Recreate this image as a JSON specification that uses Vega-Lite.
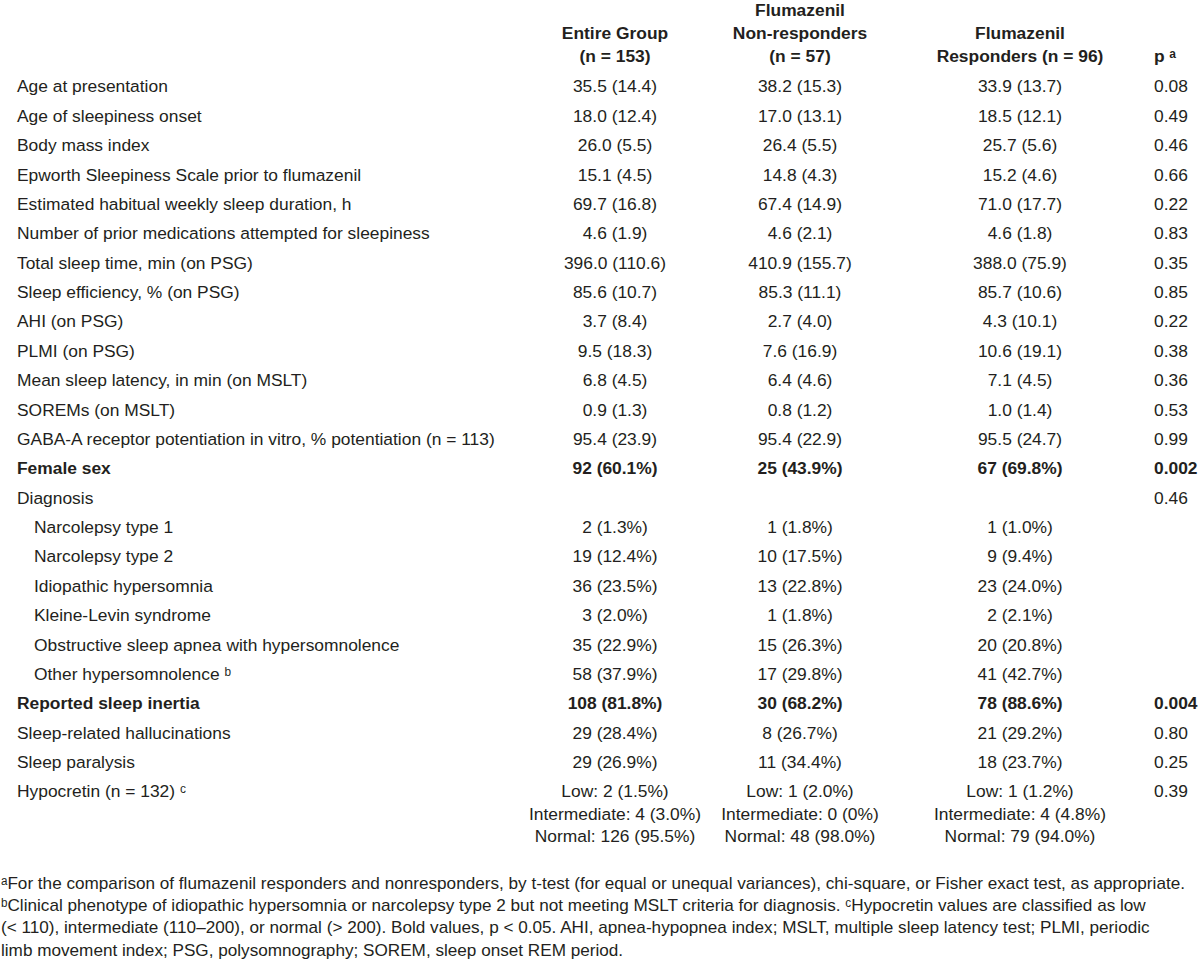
{
  "$schema": "https://vega.github.io/schema/vega-lite/v6.json",
  "width": 1200,
  "height": 974,
  "autosize": {"type": "fit", "contains": "padding"},
  "padding": 0,
  "background": "white",
  "config": {"view": {"stroke": null}, "text": {"font": "Liberation Sans, Arial, sans-serif", "fontSize": 17.4, "color": "#231f20", "baseline": "middle"}},
  "data": {"values": [
    {"r": -1.604, "c": 4, "t": "Flumazenil", "b": 1},
    {"r": -0.821, "c": 3, "t": "Entire Group", "b": 1},
    {"r": -0.821, "c": 4, "t": "Non-responders", "b": 1},
    {"r": -0.821, "c": 5, "t": "Flumazenil", "b": 1},
    {"r": -0.038, "c": 3, "t": "(n = 153)", "b": 1},
    {"r": -0.038, "c": 4, "t": "(n = 57)", "b": 1},
    {"r": -0.038, "c": 5, "t": "Responders (n = 96)", "b": 1},
    {"r": -0.038, "c": 6, "t": "p ᵃ", "b": 1},

    {"r": 1, "c": 1, "t": "Age at presentation", "b": 0},
    {"r": 1, "c": 3, "t": "35.5 (14.4)", "b": 0},
    {"r": 1, "c": 4, "t": "38.2 (15.3)", "b": 0},
    {"r": 1, "c": 5, "t": "33.9 (13.7)", "b": 0},
    {"r": 1, "c": 6, "t": "0.08", "b": 0},

    {"r": 2, "c": 1, "t": "Age of sleepiness onset", "b": 0},
    {"r": 2, "c": 3, "t": "18.0 (12.4)", "b": 0},
    {"r": 2, "c": 4, "t": "17.0 (13.1)", "b": 0},
    {"r": 2, "c": 5, "t": "18.5 (12.1)", "b": 0},
    {"r": 2, "c": 6, "t": "0.49", "b": 0},

    {"r": 3, "c": 1, "t": "Body mass index", "b": 0},
    {"r": 3, "c": 3, "t": "26.0 (5.5)", "b": 0},
    {"r": 3, "c": 4, "t": "26.4 (5.5)", "b": 0},
    {"r": 3, "c": 5, "t": "25.7 (5.6)", "b": 0},
    {"r": 3, "c": 6, "t": "0.46", "b": 0},

    {"r": 4, "c": 1, "t": "Epworth Sleepiness Scale prior to flumazenil", "b": 0},
    {"r": 4, "c": 3, "t": "15.1 (4.5)", "b": 0},
    {"r": 4, "c": 4, "t": "14.8 (4.3)", "b": 0},
    {"r": 4, "c": 5, "t": "15.2 (4.6)", "b": 0},
    {"r": 4, "c": 6, "t": "0.66", "b": 0},

    {"r": 5, "c": 1, "t": "Estimated habitual weekly sleep duration, h", "b": 0},
    {"r": 5, "c": 3, "t": "69.7 (16.8)", "b": 0},
    {"r": 5, "c": 4, "t": "67.4 (14.9)", "b": 0},
    {"r": 5, "c": 5, "t": "71.0 (17.7)", "b": 0},
    {"r": 5, "c": 6, "t": "0.22", "b": 0},

    {"r": 6, "c": 1, "t": "Number of prior medications attempted for sleepiness", "b": 0},
    {"r": 6, "c": 3, "t": "4.6 (1.9)", "b": 0},
    {"r": 6, "c": 4, "t": "4.6 (2.1)", "b": 0},
    {"r": 6, "c": 5, "t": "4.6 (1.8)", "b": 0},
    {"r": 6, "c": 6, "t": "0.83", "b": 0},

    {"r": 7, "c": 1, "t": "Total sleep time, min (on PSG)", "b": 0},
    {"r": 7, "c": 3, "t": "396.0 (110.6)", "b": 0},
    {"r": 7, "c": 4, "t": "410.9 (155.7)", "b": 0},
    {"r": 7, "c": 5, "t": "388.0 (75.9)", "b": 0},
    {"r": 7, "c": 6, "t": "0.35", "b": 0},

    {"r": 8, "c": 1, "t": "Sleep efficiency, % (on PSG)", "b": 0},
    {"r": 8, "c": 3, "t": "85.6 (10.7)", "b": 0},
    {"r": 8, "c": 4, "t": "85.3 (11.1)", "b": 0},
    {"r": 8, "c": 5, "t": "85.7 (10.6)", "b": 0},
    {"r": 8, "c": 6, "t": "0.85", "b": 0},

    {"r": 9, "c": 1, "t": "AHI (on PSG)", "b": 0},
    {"r": 9, "c": 3, "t": "3.7 (8.4)", "b": 0},
    {"r": 9, "c": 4, "t": "2.7 (4.0)", "b": 0},
    {"r": 9, "c": 5, "t": "4.3 (10.1)", "b": 0},
    {"r": 9, "c": 6, "t": "0.22", "b": 0},

    {"r": 10, "c": 1, "t": "PLMI (on PSG)", "b": 0},
    {"r": 10, "c": 3, "t": "9.5 (18.3)", "b": 0},
    {"r": 10, "c": 4, "t": "7.6 (16.9)", "b": 0},
    {"r": 10, "c": 5, "t": "10.6 (19.1)", "b": 0},
    {"r": 10, "c": 6, "t": "0.38", "b": 0},

    {"r": 11, "c": 1, "t": "Mean sleep latency, in min (on MSLT)", "b": 0},
    {"r": 11, "c": 3, "t": "6.8 (4.5)", "b": 0},
    {"r": 11, "c": 4, "t": "6.4 (4.6)", "b": 0},
    {"r": 11, "c": 5, "t": "7.1 (4.5)", "b": 0},
    {"r": 11, "c": 6, "t": "0.36", "b": 0},

    {"r": 12, "c": 1, "t": "SOREMs (on MSLT)", "b": 0},
    {"r": 12, "c": 3, "t": "0.9 (1.3)", "b": 0},
    {"r": 12, "c": 4, "t": "0.8 (1.2)", "b": 0},
    {"r": 12, "c": 5, "t": "1.0 (1.4)", "b": 0},
    {"r": 12, "c": 6, "t": "0.53", "b": 0},

    {"r": 13, "c": 1, "t": "GABA-A receptor potentiation in vitro, % potentiation (n = 113)", "b": 0},
    {"r": 13, "c": 3, "t": "95.4 (23.9)", "b": 0},
    {"r": 13, "c": 4, "t": "95.4 (22.9)", "b": 0},
    {"r": 13, "c": 5, "t": "95.5 (24.7)", "b": 0},
    {"r": 13, "c": 6, "t": "0.99", "b": 0},

    {"r": 14, "c": 1, "t": "Female sex", "b": 1},
    {"r": 14, "c": 3, "t": "92 (60.1%)", "b": 1},
    {"r": 14, "c": 4, "t": "25 (43.9%)", "b": 1},
    {"r": 14, "c": 5, "t": "67 (69.8%)", "b": 1},
    {"r": 14, "c": 6, "t": "0.002", "b": 1},

    {"r": 15, "c": 1, "t": "Diagnosis", "b": 0},
    {"r": 15, "c": 6, "t": "0.46", "b": 0},

    {"r": 16, "c": 2, "t": "Narcolepsy type 1", "b": 0},
    {"r": 16, "c": 3, "t": "2 (1.3%)", "b": 0},
    {"r": 16, "c": 4, "t": "1 (1.8%)", "b": 0},
    {"r": 16, "c": 5, "t": "1 (1.0%)", "b": 0},

    {"r": 17, "c": 2, "t": "Narcolepsy type 2", "b": 0},
    {"r": 17, "c": 3, "t": "19 (12.4%)", "b": 0},
    {"r": 17, "c": 4, "t": "10 (17.5%)", "b": 0},
    {"r": 17, "c": 5, "t": "9 (9.4%)", "b": 0},

    {"r": 18, "c": 2, "t": "Idiopathic hypersomnia", "b": 0},
    {"r": 18, "c": 3, "t": "36 (23.5%)", "b": 0},
    {"r": 18, "c": 4, "t": "13 (22.8%)", "b": 0},
    {"r": 18, "c": 5, "t": "23 (24.0%)", "b": 0},

    {"r": 19, "c": 2, "t": "Kleine-Levin syndrome", "b": 0},
    {"r": 19, "c": 3, "t": "3 (2.0%)", "b": 0},
    {"r": 19, "c": 4, "t": "1 (1.8%)", "b": 0},
    {"r": 19, "c": 5, "t": "2 (2.1%)", "b": 0},

    {"r": 20, "c": 2, "t": "Obstructive sleep apnea with hypersomnolence", "b": 0},
    {"r": 20, "c": 3, "t": "35 (22.9%)", "b": 0},
    {"r": 20, "c": 4, "t": "15 (26.3%)", "b": 0},
    {"r": 20, "c": 5, "t": "20 (20.8%)", "b": 0},

    {"r": 21, "c": 2, "t": "Other hypersomnolence ᵇ", "b": 0},
    {"r": 21, "c": 3, "t": "58 (37.9%)", "b": 0},
    {"r": 21, "c": 4, "t": "17 (29.8%)", "b": 0},
    {"r": 21, "c": 5, "t": "41 (42.7%)", "b": 0},

    {"r": 22, "c": 1, "t": "Reported sleep inertia", "b": 1},
    {"r": 22, "c": 3, "t": "108 (81.8%)", "b": 1},
    {"r": 22, "c": 4, "t": "30 (68.2%)", "b": 1},
    {"r": 22, "c": 5, "t": "78 (88.6%)", "b": 1},
    {"r": 22, "c": 6, "t": "0.004", "b": 1},

    {"r": 23, "c": 1, "t": "Sleep-related hallucinations", "b": 0},
    {"r": 23, "c": 3, "t": "29 (28.4%)", "b": 0},
    {"r": 23, "c": 4, "t": "8 (26.7%)", "b": 0},
    {"r": 23, "c": 5, "t": "21 (29.2%)", "b": 0},
    {"r": 23, "c": 6, "t": "0.80", "b": 0},

    {"r": 24, "c": 1, "t": "Sleep paralysis", "b": 0},
    {"r": 24, "c": 3, "t": "29 (26.9%)", "b": 0},
    {"r": 24, "c": 4, "t": "11 (34.4%)", "b": 0},
    {"r": 24, "c": 5, "t": "18 (23.7%)", "b": 0},
    {"r": 24, "c": 6, "t": "0.25", "b": 0},

    {"r": 25, "c": 1, "t": "Hypocretin (n = 132) ᶜ", "b": 0},
    {"r": 25, "c": 3, "t": "Low: 2 (1.5%)", "b": 0},
    {"r": 25, "c": 4, "t": "Low: 1 (2.0%)", "b": 0},
    {"r": 25, "c": 5, "t": "Low: 1 (1.2%)", "b": 0},
    {"r": 25, "c": 6, "t": "0.39", "b": 0},
    {"r": 25.766, "c": 3, "t": "Intermediate: 4 (3.0%)", "b": 0},
    {"r": 25.766, "c": 4, "t": "Intermediate: 0 (0%)", "b": 0},
    {"r": 25.766, "c": 5, "t": "Intermediate: 4 (4.8%)", "b": 0},
    {"r": 26.515, "c": 3, "t": "Normal: 126 (95.5%)", "b": 0},
    {"r": 26.515, "c": 4, "t": "Normal: 48 (98.0%)", "b": 0},
    {"r": 26.515, "c": 5, "t": "Normal: 79 (94.0%)", "b": 0},

    {"r": 28.106, "c": 0, "t": "ᵃFor the comparison of flumazenil responders and nonresponders, by t-test (for equal or unequal variances), chi-square, or Fisher exact test, as appropriate.", "b": 0},
    {"r": 28.855, "c": 0, "t": "ᵇClinical phenotype of idiopathic hypersomnia or narcolepsy type 2 but not meeting MSLT criteria for diagnosis. ᶜHypocretin values are classified as low", "b": 0},
    {"r": 29.621, "c": 0, "t": "(< 110), intermediate (110–200), or normal (> 200). Bold values, p < 0.05. AHI, apnea-hypopnea index; MSLT, multiple sleep latency test; PLMI, periodic", "b": 0},
    {"r": 30.387, "c": 0, "t": "limb movement index; PSG, polysomnography; SOREM, sleep onset REM period.", "b": 0}
  ]},
  "encoding": {
    "x": {"field": "c", "type": "quantitative", "axis": null,
          "scale": {"domain": [0, 1, 2, 3, 4, 5, 6], "range": [1, 17, 34, 615, 800, 1020, 1154], "zero": false, "nice": false}},
    "y": {"field": "r", "type": "quantitative", "axis": null,
          "scale": {"domain": [-1.9787, 31.179], "range": [0, 974], "zero": false, "nice": false}},
    "text": {"field": "t", "type": "nominal"}
  },
  "layer": [
    {"transform": [{"filter": "datum.c == 0"}],
     "mark": {"type": "text", "align": "left", "fontSize": 17.15}},
    {"transform": [{"filter": "(datum.c == 1 || datum.c == 2 || datum.c == 6) && datum.b == 0"}],
     "mark": {"type": "text", "align": "left"}},
    {"transform": [{"filter": "(datum.c == 1 || datum.c == 2 || datum.c == 6) && datum.b == 1"}],
     "mark": {"type": "text", "align": "left", "fontWeight": "bold"}},
    {"transform": [{"filter": "datum.c >= 3 && datum.c <= 5 && datum.b == 0"}],
     "mark": {"type": "text", "align": "center"}},
    {"transform": [{"filter": "datum.c >= 3 && datum.c <= 5 && datum.b == 1"}],
     "mark": {"type": "text", "align": "center", "fontWeight": "bold"}}
  ]
}
